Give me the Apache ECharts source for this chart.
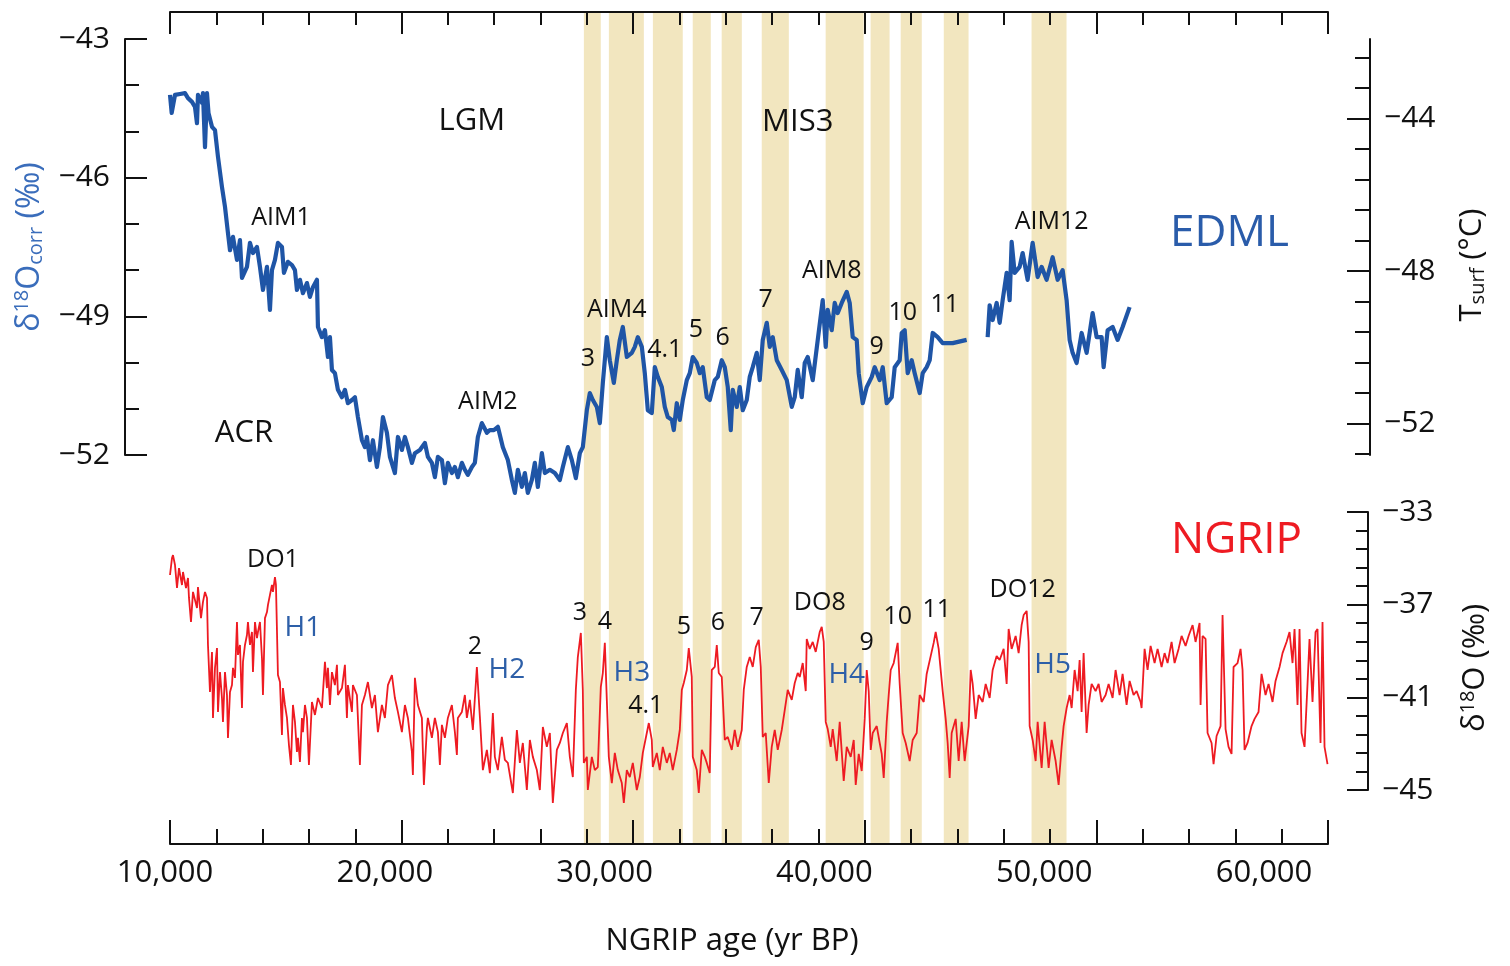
<!DOCTYPE html>
<html>
<head>
<meta charset="utf-8">
<script src="https://cdn.jsdelivr.net/npm/echarts/dist/echarts.min.js"></script>
<style>html,body{margin:0;padding:0;background:#fff}#c{width:1510px;height:966px}</style>
</head>
<body>
<div id="c"></div>
<script>
// ---------------- DATA ----------------
// EDML δ18Ocorr (‰) vs NGRIP age (yr BP); null marks the gap in the record
const edmlData = [
[10000,-44.21],[10073,-44.60],[10216,-44.21],[10432,-44.19],[10647,-44.17],[10777,-44.28],[10950,-44.36],[11079,-44.47],[11165,-44.82],[11208,-44.21],
[11381,-44.38],[11424,-44.17],[11511,-45.34],[11597,-44.17],[11662,-44.60],[11813,-44.90],[11942,-44.97],[12072,-45.55],[12244,-46.20],[12374,-46.63],
[12503,-47.20],[12590,-47.57],[12719,-47.28],[12892,-47.78],[13021,-47.35],[13108,-48.17],[13323,-47.93],[13453,-47.41],[13582,-47.63],[13755,-47.50],
[13884,-47.93],[14014,-48.43],[14187,-47.93],[14316,-48.86],[14402,-48.00],[14532,-47.78],[14661,-47.41],[14834,-47.50],[14920,-48.06],[15093,-47.82],
[15266,-47.89],[15395,-48.00],[15481,-48.43],[15611,-48.21],[15740,-48.50],[15913,-48.28],[16042,-48.58],[16172,-48.37],[16345,-48.21],[16388,-49.23],
[16560,-49.45],[16690,-49.30],[16819,-49.88],[16906,-49.45],[16992,-50.16],[17121,-50.23],[17251,-50.59],[17424,-50.75],[17553,-50.59],[17683,-50.88],
[17855,-50.81],[17985,-50.75],[18114,-51.18],[18287,-51.68],[18416,-51.83],[18503,-51.61],[18632,-52.11],[18762,-51.68],[18934,-52.26],[19064,-51.83],
[19193,-51.18],[19366,-51.52],[19495,-52.04],[19711,-52.39],[19841,-51.61],[20013,-51.89],[20143,-51.61],[20272,-51.83],[20445,-52.17],[20575,-51.96],
[20790,-51.89],[21006,-51.74],[21135,-52.04],[21308,-52.17],[21437,-52.48],[21567,-52.04],[21740,-52.11],[21869,-52.61],[21999,-52.17],[22171,-52.39],
[22301,-52.26],[22430,-52.48],[22603,-52.17],[22732,-52.32],[22862,-52.43],[23035,-52.26],[23164,-52.17],[23293,-51.61],[23466,-51.31],[23682,-51.52],
[23811,-51.46],[23984,-51.46],[24157,-51.39],[24372,-51.83],[24588,-52.11],[24761,-52.54],[24890,-52.82],[25020,-52.32],[25192,-52.69],[25322,-52.39],
[25451,-52.82],[25624,-52.54],[25753,-52.17],[25883,-52.69],[26056,-51.96],[26185,-52.39],[26401,-52.32],[26617,-52.39],[26832,-52.54],[26962,-52.26],
[27178,-51.83],[27351,-52.11],[27523,-52.50],[27696,-51.96],[27825,-51.83],[27998,-51.03],[28127,-50.66],[28257,-50.81],[28430,-50.96],[28559,-51.31],
[28689,-50.44],[28861,-49.45],[28991,-49.95],[29163,-50.44],[29293,-49.95],[29422,-49.51],[29552,-49.23],[29725,-49.88],[29940,-49.79],[30069,-49.66],
[30199,-49.45],[30372,-49.66],[30501,-50.23],[30631,-51.03],[30803,-51.09],[30933,-50.10],[31062,-50.31],[31235,-50.53],[31364,-50.96],[31494,-51.18],
[31667,-51.24],[31753,-51.46],[31882,-50.88],[32012,-51.24],[32141,-50.81],[32314,-50.38],[32443,-50.23],[32573,-49.88],[32745,-50.01],[32875,-50.23],
[33004,-50.10],[33177,-50.75],[33306,-50.81],[33522,-50.38],[33651,-50.31],[33824,-49.95],[33954,-50.10],[34083,-50.53],[34213,-51.46],[34299,-50.59],
[34472,-50.96],[34601,-50.53],[34731,-51.03],[34903,-50.81],[35033,-50.31],[35162,-50.10],[35335,-49.79],[35464,-50.38],[35594,-49.51],[35767,-49.14],
[35896,-49.66],[36025,-49.45],[36198,-49.95],[36414,-50.16],[36630,-50.38],[36846,-50.96],[36975,-50.75],[37104,-50.16],[37277,-50.75],[37407,-50.01],
[37536,-49.88],[37752,-50.38],[37968,-49.51],[38183,-48.65],[38313,-49.66],[38399,-48.86],[38572,-49.30],[38701,-48.71],[38831,-48.93],[39004,-48.71],
[39220,-48.47],[39349,-48.71],[39478,-49.45],[39651,-49.51],[39737,-50.23],[39910,-50.88],[40083,-50.53],[40299,-50.31],[40428,-50.10],[40644,-50.38],
[40774,-50.10],[40946,-50.88],[41162,-50.75],[41291,-50.10],[41507,-49.95],[41593,-49.36],[41723,-49.30],[41852,-50.23],[42025,-49.95],[42154,-50.23],
[42370,-50.66],[42500,-50.23],[42672,-50.10],[42802,-49.95],[42931,-49.36],[43147,-49.45],[43363,-49.58],[43794,-49.58],[44398,-49.51],[44850,null],
[45305,-49.45],[45391,-48.76],[45521,-49.08],[45693,-48.71],[45823,-49.14],[45952,-48.65],[46125,-48.06],[46254,-48.65],[46341,-47.39],[46470,-48.06],
[46686,-47.93],[46815,-47.63],[47031,-48.21],[47247,-47.41],[47463,-48.15],[47636,-47.93],[47851,-48.21],[48110,-47.72],[48326,-48.21],[48542,-48.00],
[48714,-48.65],[48844,-49.51],[48973,-49.79],[49146,-50.01],[49362,-49.36],[49578,-49.79],[49837,-48.93],[50010,-49.45],[50226,-49.45],[50312,-50.10],
[50485,-49.30],[50701,-49.23],[50916,-49.51],[51132,-49.23],[51434,-48.80]
];

// NGRIP δ18O (‰) vs age (yr BP)
const ngripData = [
[10000,-35.72],[10086,-34.99],[10129,-34.86],[10216,-35.29],[10302,-36.28],[10388,-35.42],[10518,-36.15],[10561,-35.59],[10691,-36.28],[10777,-35.85],
[10820,-36.71],[10906,-37.75],[10993,-36.45],[11165,-37.14],[11208,-36.24],[11338,-37.58],[11424,-36.88],[11511,-36.45],[11597,-36.71],[11640,-38.74],
[11726,-40.77],[11813,-39.04],[11856,-41.89],[11942,-39.73],[12029,-38.87],[12072,-41.63],[12158,-39.91],[12244,-41.03],[12287,-42.06],[12374,-39.91],
[12460,-40.90],[12503,-42.75],[12590,-40.77],[12676,-40.47],[12719,-39.73],[12805,-40.16],[12892,-37.75],[12935,-39.17],[13021,-38.74],[13108,-41.46],
[13151,-39.47],[13237,-38.74],[13323,-38.31],[13366,-37.75],[13453,-38.74],[13539,-38.18],[13582,-39.91],[13669,-37.75],[13755,-38.44],[13798,-38.18],
[13884,-37.75],[13971,-39.30],[14014,-40.90],[14100,-37.58],[14187,-37.32],[14230,-37.01],[14316,-36.58],[14402,-36.15],[14446,-36.45],[14532,-35.81],
[14575,-36.15],[14661,-40.04],[14748,-40.34],[14834,-42.62],[14877,-40.60],[14963,-41.33],[15050,-41.89],[15136,-43.06],[15222,-43.92],[15309,-41.33],
[15395,-42.06],[15481,-43.36],[15524,-42.75],[15611,-43.79],[15697,-41.89],[15740,-42.50],[15827,-41.33],[15913,-41.89],[15999,-43.92],[16129,-41.20],
[16258,-41.76],[16388,-41.03],[16560,-41.46],[16690,-39.47],[16776,-40.60],[16819,-39.73],[16906,-41.33],[16992,-39.91],[17121,-40.47],[17208,-39.60],
[17251,-40.90],[17424,-40.60],[17553,-39.60],[17639,-41.89],[17682,-40.47],[17855,-41.63],[17898,-40.47],[18071,-40.90],[18200,-43.92],[18287,-41.33],
[18416,-40.90],[18546,-40.34],[18718,-41.46],[18848,-40.90],[18977,-42.50],[19150,-41.33],[19279,-41.89],[19409,-40.47],[19582,-40.04],[19711,-41.03],
[19840,-41.63],[20013,-42.50],[20143,-41.33],[20272,-41.89],[20445,-43.36],[20488,-44.35],[20574,-40.16],[20704,-41.33],[20876,-41.89],[20963,-44.78],
[21092,-42.32],[21135,-41.89],[21308,-42.75],[21437,-41.89],[21567,-42.50],[21653,-43.92],[21740,-42.19],[21869,-42.75],[21998,-41.89],[22171,-41.33],
[22301,-42.50],[22387,-43.49],[22430,-41.89],[22603,-41.63],[22732,-40.90],[22819,-41.89],[22948,-41.11],[23077,-42.41],[23250,-39.69],[23380,-41.85],
[23509,-44.14],[23682,-43.27],[23811,-44.27],[23941,-41.68],[24027,-43.57],[24156,-44.14],[24329,-42.71],[24459,-43.70],[24588,-43.83],[24804,-45.13],
[24977,-42.41],[25106,-43.83],[25235,-42.97],[25408,-45.00],[25538,-42.84],[25667,-43.57],[25840,-44.14],[25969,-45.00],[26099,-42.28],[26271,-43.14],
[26401,-42.54],[26530,-45.56],[26703,-43.27],[26832,-42.97],[26962,-42.54],[27135,-42.11],[27264,-43.57],[27393,-44.44],[27523,-40.68],[27609,-39.26],
[27739,-38.22],[27825,-40.68],[27868,-43.83],[27998,-43.57],[28041,-45.00],[28214,-43.57],[28343,-44.14],[28472,-44.01],[28602,-40.55],[28688,-39.95],
[28775,-38.65],[28861,-41.11],[28947,-43.57],[29077,-44.70],[29206,-43.40],[29336,-44.14],[29508,-44.70],[29595,-45.56],[29724,-44.14],[29854,-44.44],
[29983,-43.83],[30156,-45.00],[30285,-44.44],[30415,-43.40],[30587,-42.54],[30674,-42.11],[30803,-42.84],[30846,-44.01],[31019,-43.40],[31148,-44.14],
[31278,-43.14],[31451,-43.83],[31580,-43.40],[31709,-44.14],[31882,-43.27],[32012,-42.41],[32098,-40.68],[32184,-40.38],[32314,-39.82],[32400,-38.87],
[32529,-40.12],[32573,-43.57],[32745,-44.14],[32832,-45.13],[32961,-43.27],[33091,-43.57],[33177,-43.83],[33306,-44.27],[33393,-39.82],[33522,-39.69],
[33609,-38.74],[33695,-39.95],[33824,-40.12],[33954,-42.84],[34083,-42.71],[34256,-43.27],[34385,-42.41],[34515,-43.14],[34688,-42.41],[34774,-40.68],
[34903,-39.69],[35033,-39.26],[35162,-39.69],[35292,-38.83],[35421,-38.52],[35508,-39.69],[35594,-42.71],[35723,-42.54],[35853,-44.70],[35982,-43.14],
[36112,-42.41],[36241,-43.27],[36414,-42.41],[36543,-41.55],[36673,-40.68],[36846,-41.11],[36975,-40.38],[37104,-39.95],[37191,-40.12],[37320,-39.52],
[37450,-40.73],[37493,-38.48],[37622,-38.91],[37752,-38.61],[37881,-39.04],[38054,-38.18],[38140,-37.96],[38227,-38.61],[38313,-42.06],[38399,-42.37],
[38529,-43.14],[38615,-42.37],[38788,-43.75],[38917,-42.06],[39090,-44.61],[39220,-43.14],[39392,-43.57],[39522,-42.84],[39608,-44.78],[39738,-43.44],
[39867,-44.18],[39996,-41.93],[40083,-39.82],[40169,-40.73],[40256,-43.27],[40342,-42.54],[40515,-42.24],[40644,-42.97],[40730,-43.44],[40817,-44.48],
[40946,-42.06],[41032,-40.90],[41119,-39.82],[41248,-39.52],[41420,-38.65],[41507,-40.42],[41636,-42.54],[41766,-42.97],[41938,-43.75],[42068,-42.84],
[42241,-42.54],[42370,-40.90],[42543,-41.20],[42672,-39.99],[42845,-39.22],[42974,-38.65],[43061,-38.18],[43190,-38.91],[43276,-39.82],[43363,-40.73],
[43492,-41.93],[43578,-42.97],[43665,-44.48],[43751,-42.54],[43924,-41.93],[44053,-43.75],[44183,-42.06],[44312,-43.75],[44485,-42.24],[44572,-39.82],
[44658,-40.42],[44787,-41.93],[44917,-40.90],[45089,-41.20],[45219,-40.42],[45391,-41.03],[45521,-39.82],[45693,-39.22],[45823,-39.39],[45995,-38.91],
[46125,-40.42],[46211,-38.05],[46341,-38.91],[46513,-38.35],[46643,-39.09],[46772,-37.88],[46859,-37.45],[46988,-37.27],[47075,-38.61],[47118,-42.24],
[47247,-42.84],[47377,-43.75],[47463,-42.06],[47636,-44.05],[47765,-42.06],[47938,-44.05],[48067,-42.84],[48240,-43.75],[48369,-44.78],[48499,-43.14],
[48585,-42.24],[48715,-41.46],[48844,-40.90],[48931,-41.46],[49060,-39.82],[49189,-40.73],[49276,-39.39],[49362,-41.63],[49448,-39.09],[49578,-42.54],
[49664,-41.33],[49794,-40.42],[49966,-40.73],[50096,-40.42],[50225,-41.20],[50398,-40.90],[50527,-40.42],[50700,-41.03],[50829,-39.82],[51002,-40.90],
[51131,-39.99],[51304,-41.33],[51434,-40.29],[51606,-40.90],[51736,-40.73],[51908,-41.20],[51951,-41.46],[52081,-38.91],[52210,-39.82],[52340,-38.78],
[52513,-39.52],[52642,-38.91],[52815,-39.69],[52944,-39.09],[53073,-39.52],[53246,-38.61],[53376,-39.52],[53548,-38.91],[53678,-38.35],[53851,-38.78],
[53980,-38.35],[54153,-37.88],[54282,-38.61],[54455,-37.79],[54498,-41.33],[54584,-38.35],[54714,-38.48],[54800,-42.54],[54973,-42.97],[55059,-43.88],
[55189,-42.67],[55361,-42.24],[55447,-37.45],[55577,-42.37],[55706,-43.14],[55836,-43.44],[55922,-39.69],[56095,-39.52],[56224,-38.91],[56311,-39.82],
[56397,-43.27],[56526,-42.97],[56699,-42.24],[56829,-41.93],[57001,-41.63],[57131,-39.99],[57303,-40.90],[57433,-40.42],[57606,-41.20],[57735,-40.29],
[57908,-39.69],[58037,-39.09],[58210,-38.61],[58339,-38.18],[58469,-39.52],[58555,-38.05],[58684,-41.33],[58771,-38.05],[58857,-42.54],[58987,-43.14],
[59116,-40.42],[59202,-38.48],[59332,-41.20],[59461,-38.18],[59547,-38.05],[59677,-42.97],[59763,-37.75],[59850,-43.14],[59979,-43.88]
];

// Shaded intervals (yr BP)
const bandStart = [27870, 28950, 30850, 32570, 33820, 35550, 38310, 40250, 41550, 43410, 47200];
const bandEnd   = [28600, 30460, 32140, 33350, 34690, 36720, 39950, 41070, 42460, 44480, 48710];

// Tick values / labels
const tsurfMinorTicks = [-52.8,-52,-51.2,-50.4,-49.6,-48.8,-48,-47.2,-46.4,-45.6,-44.8,-44,-43.2,-42.4];
const tsurfMajorTicks = [-52,-48,-44];

// Annotations: [text, age, value]
const upperPeriodLabels = [['LGM',23034,-44.77],['MIS3',37104,-44.80],['ACR',13194,-51.52]];
const upperEventLabels = [['AIM1',14791,-46.87],['AIM2',23725,-50.85],['AIM4',29293,-48.86],['3',28041,-49.92],
  ['4.1',31364,-49.73],['5',32702,-49.30],['6',33867,-49.47],['7',35723,-48.65],['AIM8',38572,-48.02],
  ['9',40514,-49.66],['10',41636,-48.93],['11',43449,-48.76],['AIM12',48067,-46.96]];
const edmlTitle = [['EDML',55750,-47.20]];
const ngripTitle = [['NGRIP',56052,-34.21]];
const lowerEventLabels = [['DO1',14446,-35.07],['2',23164,-38.83],['3',27696,-37.36],['4',28775,-37.75],
  ['4.1',30544,-41.37],['5',32184,-37.96],['6',33652,-37.79],['7',35335,-37.58],['DO8',38054,-36.93],
  ['9',40083,-38.65],['10',41420,-37.53],['11',43104,-37.23],['DO12',46815,-36.37]];
const heinrichLabels = [['H1',15740,-38.01],['H2',24545,-39.82],['H3',29940,-39.95],['H4',39220,-40.04],['H5',48110,-39.60]];

// ---------------- CHART ----------------
const FONT = '"Open Sans","Noto Sans",sans-serif';
const INK = '#111111';
const BLUE = '#1f55a6';
const RED = '#ee1b22';
const HBLUE = '#2d5fa8';
const BAND = '#f2e6bf';
const minus = v => (v < 0 ? '\u2212' : '') + Math.abs(v);
const ageFmt = v => String(v).replace(/\B(?=(\d{3})+(?!\d))/g, ',');

const axisLine = {show:true, onZero:false, lineStyle:{color:INK, width:2}};
const tickStyle = {color:INK, width:2};

function labelSeries(arr, xi, yi, size, color) {
  return {
    type:'scatter', xAxisIndex:xi, yAxisIndex:yi, symbolSize:0, z:6, silent:true,
    itemStyle:{opacity:1},
    data: arr.map(d => ({name:d[0], value:[d[1], d[2]]})),
    label:{show:true, position:'inside', formatter:'{b}', fontSize:size, color:color, opacity:1,
           textBorderWidth:0, fontFamily:FONT}
  };
}

const option = {
  animation:false,
  backgroundColor:'#ffffff',
  textStyle:{fontFamily:FONT},
  grid:[
    {left:170, width:1158, top:39, height:416},
    {left:170, width:1158, top:512, height:278},
    {left:165, width:1099, top:512, height:278},
    {left:170, width:1158, top:12, height:832}
  ],
  xAxis:[
    {gridIndex:0, type:'value', position:'top', min:10000, max:60000, interval:10000, offset:27, z:10,
     axisLine:axisLine, axisTick:{inside:true, length:22, lineStyle:tickStyle},
     minorTick:{show:true, splitNumber:5, length:13, lineStyle:tickStyle},
     axisLabel:{show:false}, splitLine:{show:false}},
    {gridIndex:1, type:'value', position:'bottom', min:10000, max:60000, interval:10000, offset:54, z:10,
     axisLine:axisLine, axisTick:{inside:true, length:24, lineStyle:tickStyle},
     minorTick:{show:true, splitNumber:5, length:15, lineStyle:tickStyle},
     axisLabel:{show:false}, splitLine:{show:false},
     name:'NGRIP age (yr BP)', nameLocation:'middle', nameGap:82,
     nameTextStyle:{fontSize:31, color:INK, fontFamily:FONT, padding:[0,34,0,0]}},
    {gridIndex:2, type:'value', position:'bottom', min:10000, max:60000, interval:10000, offset:54,
     axisLine:{show:false, onZero:false}, axisTick:{show:false}, splitLine:{show:false},
     axisLabel:{show:true, margin:14, fontSize:31, color:INK, fontFamily:FONT, formatter:ageFmt}},
    {gridIndex:3, type:'value', min:10000, max:60000, show:false}
  ],
  yAxis:[
    {gridIndex:0, type:'value', position:'left', min:-52, max:-43, interval:3, offset:45, z:10,
     axisLine:axisLine, axisTick:{inside:true, length:22, lineStyle:tickStyle},
     minorTick:{show:true, splitNumber:3, length:14, lineStyle:tickStyle},
     splitLine:{show:false},
     axisLabel:{margin:15, fontSize:30, color:INK, fontFamily:FONT, formatter:minus},
     name:'{b|\u03b4}{sup|18}{b|O}{sub|corr}{b| (\u2030)}', nameLocation:'middle', nameRotate:90, nameGap:78,
     nameTextStyle:{rich:{
       b:{fontSize:32, color:'#3a6dbb', fontFamily:FONT},
       sup:{fontSize:20, color:'#3a6dbb', fontFamily:FONT, padding:[0,0,15,0]},
       sub:{fontSize:20, color:'#3a6dbb', fontFamily:FONT, padding:[13,0,0,0]}}}},
    {gridIndex:0, type:'value', position:'right', min:-52.83, max:-41.91, offset:42, z:10,
     axisLine:axisLine, axisTick:{inside:true, length:15, lineStyle:tickStyle, customValues:tsurfMinorTicks},
     axisLabel:{show:false}, splitLine:{show:false}},
    {gridIndex:0, type:'value', position:'right', min:-52.83, max:-41.91, offset:42, z:10,
     axisLine:{show:false, onZero:false}, splitLine:{show:false},
     axisTick:{inside:true, length:23, lineStyle:tickStyle, customValues:tsurfMajorTicks},
     axisLabel:{margin:14, fontSize:30, color:INK, fontFamily:FONT, formatter:minus, customValues:tsurfMajorTicks},
     name:'{b|T}{sub|surf}{b| (\u00b0C)}', nameLocation:'middle', nameRotate:90, nameGap:86,
     nameTextStyle:{padding:[0,36,0,0], rich:{
       b:{fontSize:31, color:INK, fontFamily:FONT},
       sub:{fontSize:20, color:INK, fontFamily:FONT, padding:[12,0,0,0]}}}},
    {gridIndex:1, type:'value', position:'right', min:-45, max:-33, interval:4, offset:40, z:10,
     axisLine:axisLine, axisTick:{inside:true, length:21, lineStyle:tickStyle},
     minorTick:{show:true, splitNumber:5, length:12, lineStyle:tickStyle},
     splitLine:{show:false},
     axisLabel:{margin:14, fontSize:30, color:INK, fontFamily:FONT, formatter:minus},
     name:'{b|\u03b4}{sup|18}{b|O (\u2030)}', nameLocation:'middle', nameRotate:90, nameGap:90,
     nameTextStyle:{padding:[0,34,0,0], rich:{
       b:{fontSize:31, color:INK, fontFamily:FONT},
       sup:{fontSize:20, color:INK, fontFamily:FONT, padding:[0,0,14,0]}}}},
    {gridIndex:2, type:'value', min:0, max:1, show:false},
    {gridIndex:3, type:'value', min:0, max:1, show:false}
  ],
  series:[
    {type:'custom', xAxisIndex:3, yAxisIndex:5, z:1, silent:true,
     data: bandStart.map((s, i) => [s, bandEnd[i]]),
     encode:{x:[0,1]},
     renderItem:(params, api) => {
       const p0 = api.coord([api.value(0), 1]);
       const p1 = api.coord([api.value(1), 0]);
       return {type:'rect', shape:{x:p0[0], y:p0[1], width:p1[0]-p0[0], height:p1[1]-p0[1]}, style:{fill:BAND}};
     }},
    {type:'line', name:'EDML', xAxisIndex:0, yAxisIndex:0, data:edmlData, showSymbol:false, symbol:'none',
     connectNulls:false, clip:false, z:3, lineStyle:{color:BLUE, width:4.2, join:'round'}},
    {type:'line', name:'NGRIP', xAxisIndex:1, yAxisIndex:3, data:ngripData, showSymbol:false, symbol:'none',
     clip:false, z:3, lineStyle:{color:RED, width:1.8}},
    labelSeries(upperPeriodLabels, 0, 0, 31, INK),
    labelSeries(upperEventLabels, 0, 0, 25, INK),
    labelSeries(edmlTitle, 0, 0, 44, '#2a5caa'),
    labelSeries(ngripTitle, 1, 3, 44, RED),
    labelSeries(lowerEventLabels, 1, 3, 25, INK),
    labelSeries(heinrichLabels, 1, 3, 28, HBLUE)
  ]
};

const chart = echarts.init(document.getElementById('c'), null, {width:1510, height:966});
chart.setOption(option);
</script>
</body>
</html>
